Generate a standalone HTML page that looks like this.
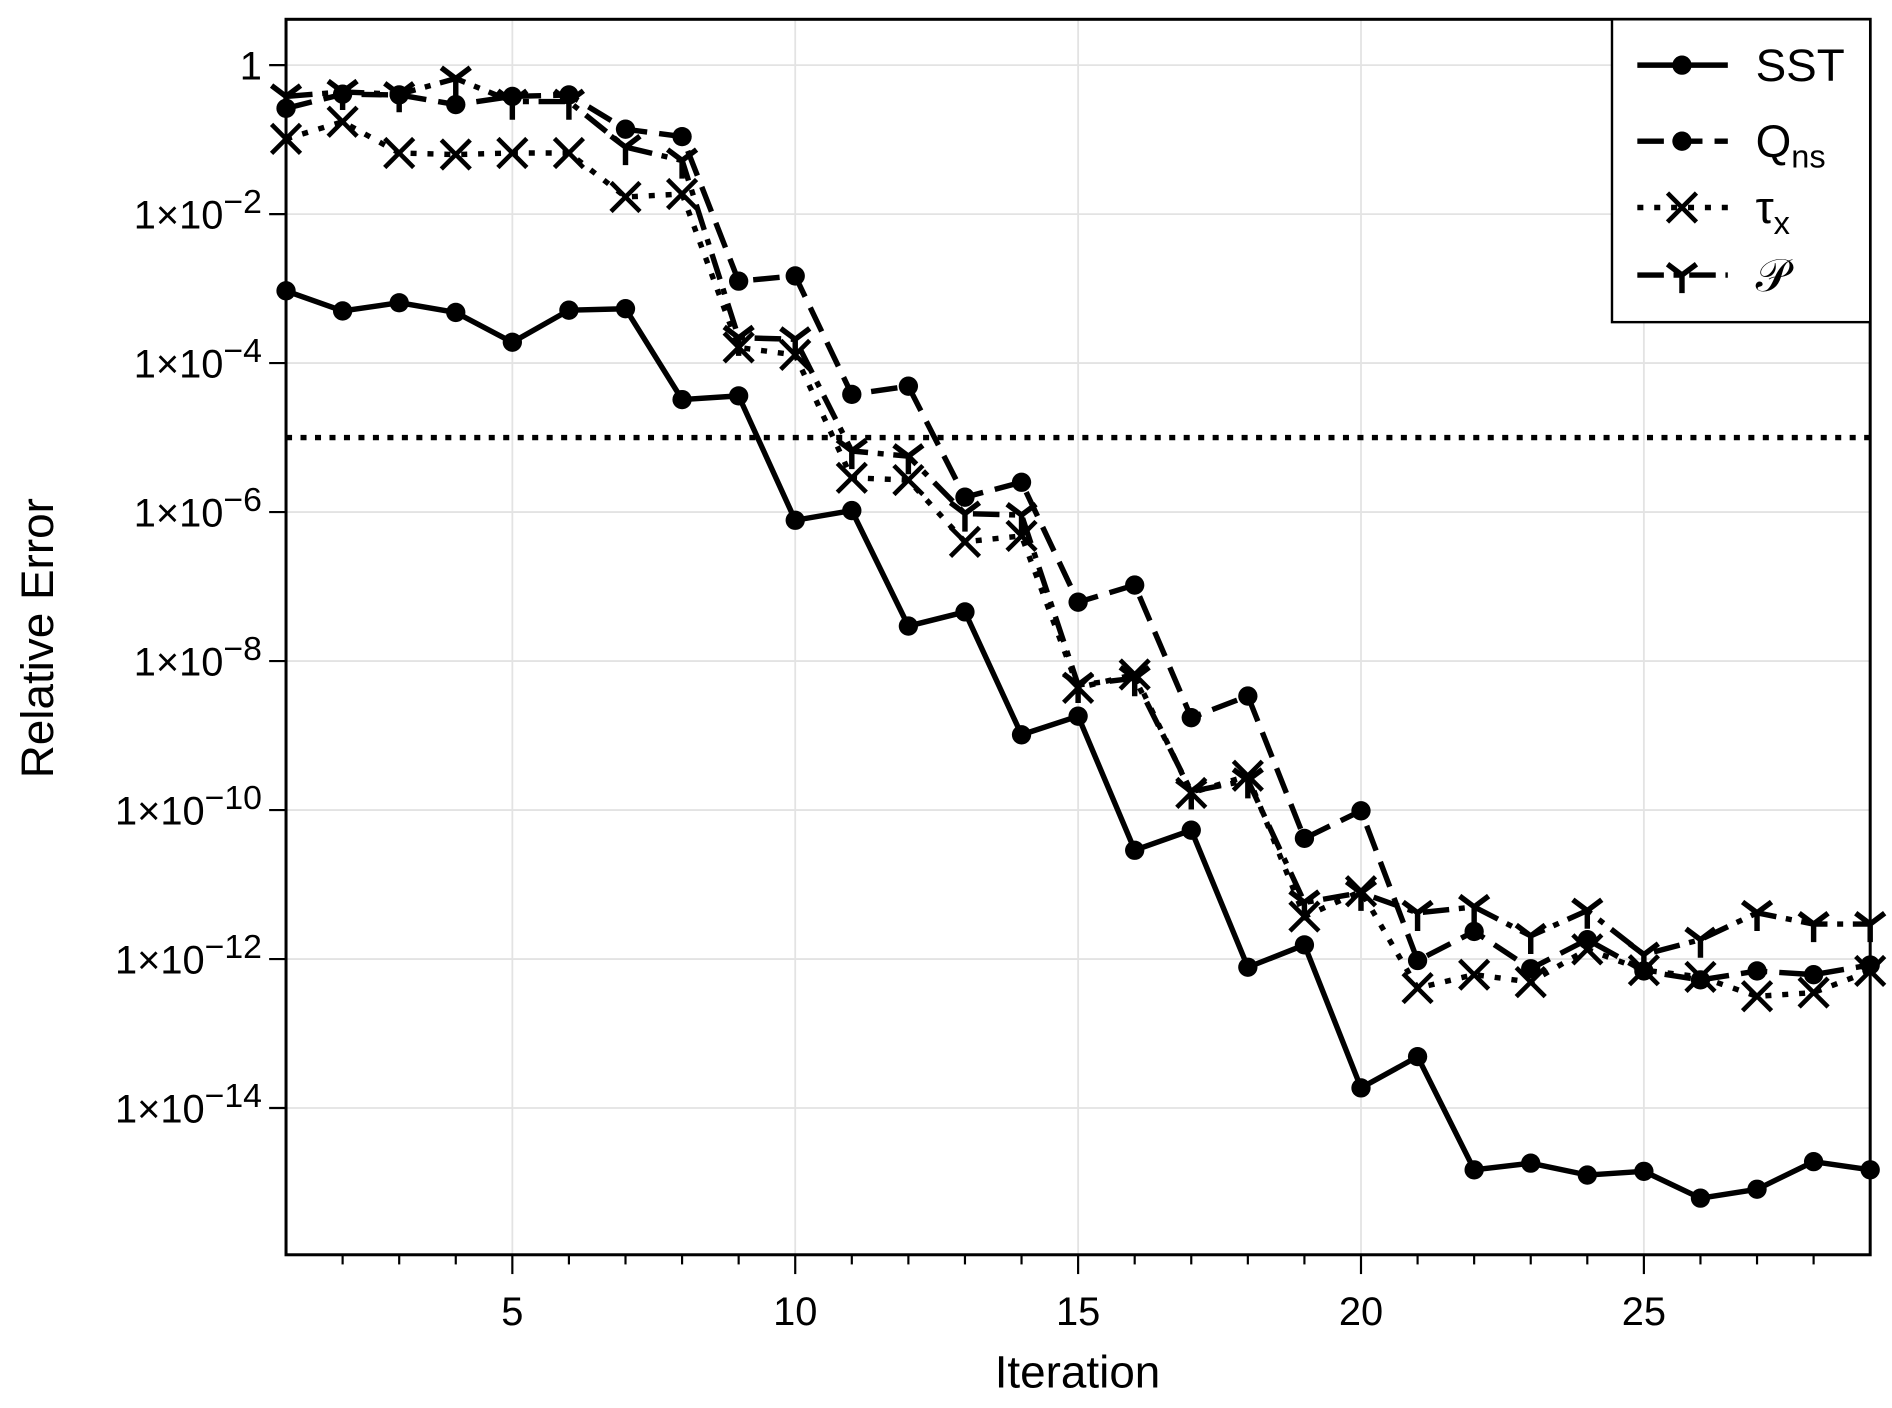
<!DOCTYPE html>
<html><head><meta charset="utf-8">
<style>
html,body{margin:0;padding:0;background:#fff;}
svg{display:block;font-family:"Liberation Sans",sans-serif;}
</style></head>
<body>
<svg id="chart" width="1892" height="1408" viewBox="0 0 1568 1167" xmlns="http://www.w3.org/2000/svg">
<g id="grid"></g>
<g id="series"></g>
<rect x="237" y="16" width="1313" height="1024" fill="none" stroke="#000" stroke-width="2.5"/>
<g id="axes"></g>
<text x="893" y="1150" font-size="38" text-anchor="middle">Iteration</text>
<text transform="translate(44,529) rotate(-90)" font-size="38" text-anchor="middle">Relative Error</text>
<g id="legend">
<rect x="1336" y="16" width="214" height="251" fill="#fff" stroke="#000" stroke-width="2"/>
</g>
</svg>
<script>
const iterations = [1,2,3,4,5,6,7,8,9,10,11,12,13,14,15,16,17,18,19,20,21,22,23,24,25,26,27,28,29];
// log10 of relative error
const sstLog = [-3.03,-3.30,-3.19,-3.32,-3.72,-3.29,-3.27,-4.49,-4.44,-6.11,-5.98,-7.53,-7.34,-8.99,-8.74,-10.54,-10.27,-12.11,-11.81,-13.73,-13.31,-14.83,-14.74,-14.90,-14.85,-15.21,-15.09,-14.72,-14.83];
const qnsLog = [-0.58,-0.39,-0.40,-0.53,-0.42,-0.40,-0.86,-0.96,-2.90,-2.83,-4.42,-4.31,-5.80,-5.60,-7.21,-6.98,-8.76,-8.47,-10.38,-10.01,-12.02,-11.63,-12.13,-11.74,-12.16,-12.28,-12.16,-12.21,-12.08];
const tauLog = [-0.99,-0.76,-1.18,-1.20,-1.18,-1.18,-1.77,-1.73,-3.79,-3.89,-5.54,-5.57,-6.40,-6.32,-8.36,-8.18,-9.77,-9.54,-11.43,-11.09,-12.39,-12.21,-12.31,-11.87,-12.15,-12.24,-12.50,-12.45,-12.16];
const pLog = [-0.42,-0.36,-0.39,-0.18,-0.49,-0.49,-1.10,-1.28,-3.66,-3.68,-5.18,-5.25,-6.02,-6.04,-8.32,-8.23,-9.75,-9.60,-11.24,-11.11,-11.38,-11.30,-11.69,-11.35,-11.94,-11.74,-11.38,-11.53,-11.53];
const thresholdLog = -5;
const xTicks = [5,10,15,20,25];
const yTickExps = [0,-2,-4,-6,-8,-10,-12,-14];

const NS = "http://www.w3.org/2000/svg";
const L=237,R=1550,T=16,B=1040, XMIN=1,XMAX=29, YMIN=-15.97, YMAX=0.615;
function xs(v){return L+(v-XMIN)/(XMAX-XMIN)*(R-L);}
function ys(v){return T+(YMAX-v)/(YMAX-YMIN)*(B-T);}
function mk(tag,attrs,parent){const e=document.createElementNS(NS,tag);for(const k in attrs)e.setAttribute(k,attrs[k]);parent.appendChild(e);return e;}
const grid=document.getElementById('grid'),axes=document.getElementById('axes'),ser=document.getElementById('series'),leg=document.getElementById('legend');

xTicks.forEach(t=>{
  const g=mk('line',{x1:xs(t),x2:xs(t),y1:T,y2:B,stroke:'#e3e3e3','stroke-width':1.5},grid);
  
  
  const lb=mk('text',{x:xs(t),y:1098,'font-size':33,'text-anchor':'middle'},axes);
  
  
  lb.textContent=t;
});
for(let i=2;i<29;i++){
  const major=xTicks.includes(i);
  const tk=mk('line',{x1:xs(i),x2:xs(i),y1:B,y2:B+(major?16:8),stroke:'#000','stroke-width':1.8},axes);
  
  
}
yTickExps.forEach(e=>{
  const y=ys(e);
  const g=mk('line',{x1:L,x2:R,y1:y,y2:y,stroke:'#e3e3e3','stroke-width':1.5},grid);
  
  
  const tk=mk('line',{x1:L-14,x2:L,y1:y,y2:y,stroke:'#000','stroke-width':1.8},axes);
  
  
  const lb=mk('text',{x:L-20,y:y+12,'font-size':33,'text-anchor':'end'},axes);
  
  
  if(e===0){lb.textContent='1';}
  else{
    const a=document.createElementNS(NS,'tspan');a.textContent='1×10';lb.appendChild(a);
    const b=document.createElementNS(NS,'tspan');b.setAttribute('dy','-13');b.setAttribute('font-size','28');b.textContent='−'+(-e);lb.appendChild(b);
  }
});

const thr=mk('line',{x1:L,x2:R,y1:ys(thresholdLog),y2:ys(thresholdLog),stroke:'#000','stroke-width':4.5,'stroke-dasharray':'5 7'},ser);



function marker(type,x,y,parent){
  let m;
  if(type==='dot'){m=mk('circle',{cx:x,cy:y,r:8,fill:'#000'},parent);}
  else if(type==='x'){m=mk('path',{d:`M${x-12},${y-12}L${x+12},${y+12}M${x-12},${y+12}L${x+12},${y-12}`,stroke:'#000','stroke-width':3.8,fill:'none'},parent);}
  else {m=mk('path',{d:`M${x},${y}L${x-12},${y-9}M${x},${y}L${x+12},${y-9}M${x},${y}L${x},${y+15}`,stroke:'#000','stroke-width':4.5,fill:'none'},parent);}
  return m;
}
const seriesDefs=[
  {name:'sst',data:sstLog,dash:'',mark:'dot'},
  {name:'qns',data:qnsLog,dash:'22 10',mark:'dot'},
  {name:'tau-x',data:tauLog,dash:'5 9',mark:'x'},
  {name:'p',data:pLog,dash:'22 8 5 8',mark:'y'}
];
seriesDefs.slice().reverse().forEach(s=>{
  const g=mk('g',{},ser);
  
  
  const pts=iterations.map((it,i)=>xs(it).toFixed(1)+','+ys(s.data[i]).toFixed(1)).join(' ');
  const ln=mk('polyline',{points:pts,fill:'none',stroke:'#000','stroke-width':4.5,'stroke-dasharray':s.dash,'stroke-linejoin':'round'},g);
  
  
  iterations.forEach((it,i)=>{
    const m=marker(s.mark,xs(it),ys(s.data[i]),g);
    
    
  });
});

const legItems=[
  {label:'SST',dash:'',mark:'dot',y:54},
  {label:'Q',sub:'ns',dash:'22 10',mark:'dot',y:117},
  {label:'τ',sub:'x',dash:'5 9',mark:'x',y:172},
  {label:'𝒫',dash:'22 8 5 8',mark:'y',y:228}
];
legItems.forEach(it=>{
  const g=mk('g',{},leg);
  
  
  mk('line',{x1:1357,x2:1432,y1:it.y,y2:it.y,stroke:'#000','stroke-width':4.5,'stroke-dasharray':it.dash},g);
  marker(it.mark,1394,it.y,g);
  const t=mk('text',{x:1455,y:it.y+13,'font-size':38},g);
  const a=document.createElementNS(NS,'tspan');a.textContent=it.label;t.appendChild(a);
  if(it.sub){const b=document.createElementNS(NS,'tspan');b.setAttribute('dy','9');b.setAttribute('font-size','27');b.textContent=it.sub;t.appendChild(b);}
});
</script>
</body></html>
